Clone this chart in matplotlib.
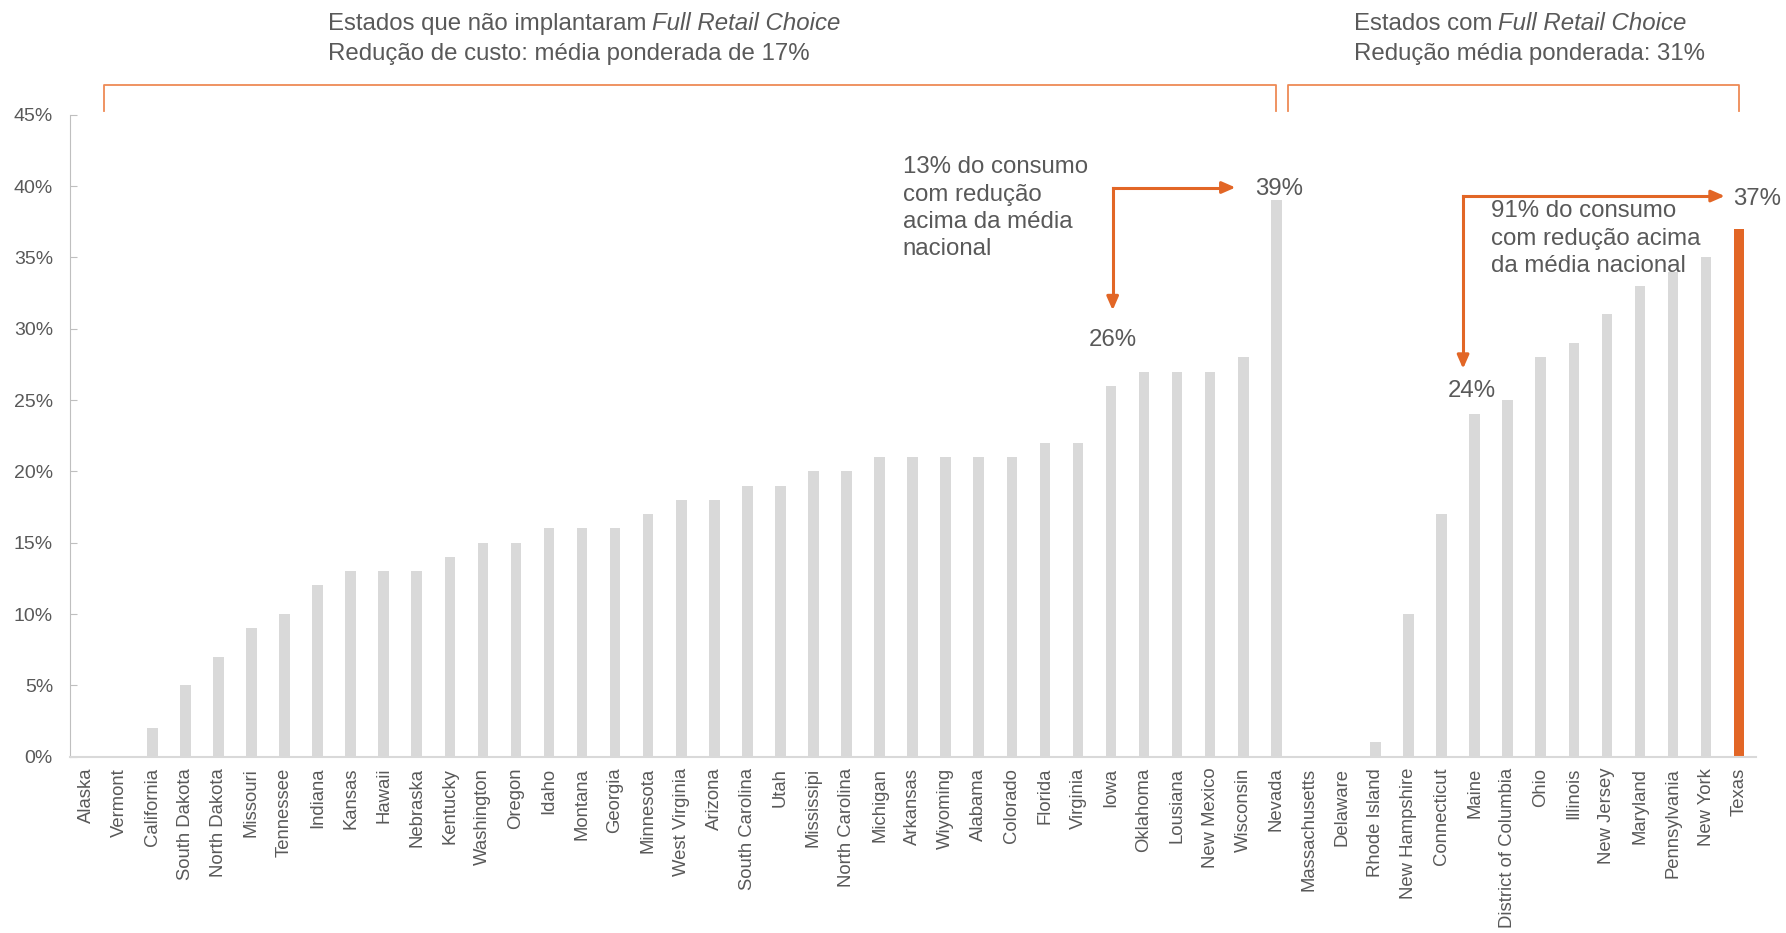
import matplotlib
matplotlib.use("Agg")
import matplotlib.pyplot as plt
from matplotlib import font_manager
import numpy as np

# fonts: narrow face for annotations if we have it
names = {f.name for f in font_manager.fontManager.ttflist}
narrow = "Liberation Sans Narrow" if "Liberation Sans Narrow" in names else "Liberation Sans"
plt.rcParams["font.family"] = ["Liberation Sans", "DejaVu Sans"]

states_no_frc = ["Alaska", "Vermont", "California", "South Dakota", "North Dakota", "Missouri",
                 "Tennessee", "Indiana", "Kansas", "Hawaii", "Nebraska", "Kentucky", "Washington",
                 "Oregon", "Idaho", "Montana", "Georgia", "Minnesota", "West Virginia", "Arizona",
                 "South Carolina", "Utah", "Mississipi", "North Carolina", "Michigan", "Arkansas",
                 "Wiyoming", "Alabama", "Colorado", "Florida", "Virginia", "Iowa", "Oklahoma",
                 "Lousiana", "New Mexico", "Wisconsin", "Nevada"]
red_no_frc = [0, 0, 2, 5, 7, 9, 10, 12, 13, 13, 13, 14, 15, 15, 16, 16, 16, 17, 18, 18, 19, 19,
              20, 20, 21, 21, 21, 21, 21, 22, 22, 26, 27, 27, 27, 28, 39]

states_frc = ["Massachusetts", "Delaware", "Rhode Island", "New Hampshire", "Connecticut", "Maine",
              "District of Columbia", "Ohio", "Illinois", "New Jersey", "Maryland", "Pennsylvania",
              "New York", "Texas"]
red_frc = [0, 0, 1, 10, 17, 24, 25, 28, 29, 31, 33, 34, 35, 37]

states = states_no_frc + states_frc
values = np.array(red_no_frc + red_frc) / 100
highlight = "Texas"

grey_bar = "#D9D9D9"
orange = "#E26626"
txt = "#595959"

fig = plt.figure(figsize=(17.86, 9.33), dpi=100)
ax = fig.add_axes([0.039, 0.189, 0.944, 0.688])

x = np.arange(len(states))
colors = [orange if s == highlight else grey_bar for s in states]
ax.bar(x, values, width=0.32, color=colors, zorder=2)

ax.set_xlim(-0.5, len(states) - 0.5)
ax.set_ylim(0, 0.45)
ax.set_yticks(np.arange(0, 0.451, 0.05))
ax.set_yticklabels([f"{int(round(v * 100))}%" for v in np.arange(0, 0.451, 0.05)])
ax.set_xticks(x)
ax.set_xticklabels(states, rotation=90)
ax.tick_params(axis="y", direction="in", length=5, color="#BFBFBF", labelsize=14, labelcolor=txt, pad=12)
ax.tick_params(axis="x", length=0, labelsize=13.3, labelcolor=txt, pad=8)
for side in ["top", "right"]:
    ax.spines[side].set_visible(False)
ax.spines["left"].set_color("#BFBFBF")
ax.spines["bottom"].set_color("#D9D9D9")
ax.spines["bottom"].set_linewidth(1.5)

# group brackets above the chart
def bracket(x0, x1, ytop, ybot):
    ax.plot([x0, x0, x1, x1], [ybot, ytop, ytop, ybot], color="#EE8A55", lw=1.3, clip_on=False)

bracket(0.55, 36.0, 0.471, 0.4525)
bracket(36.35, 50.0, 0.471, 0.4525)

def heading(xpos, first, italic, second):
    t1 = ax.text(xpos, 0.5135, first, fontsize=17.3, color=txt, family=narrow, va="center", clip_on=False)
    ax.annotate(italic, xy=(1, 0), xycoords=t1, xytext=(4, 0), textcoords="offset points",
                fontsize=17.3, color=txt, family=narrow, style="italic", va="bottom")
    ax.text(xpos, 0.4925, second, fontsize=17.3, color=txt, family=narrow, va="center", clip_on=False)

heading(7.3, "Estados que não implantaram", "Full Retail Choice",
        "Redução de custo: média ponderada de 17%")
heading(38.35, "Estados com", "Full Retail Choice", "Redução média ponderada: 31%")

# arrows
def elbow(xv, yh, ydown, xright):
    ax.plot([xv, xv], [ydown + 0.008, yh], color=orange, lw=2.2, clip_on=False)
    ax.plot([xv, xright - 0.4], [yh, yh], color=orange, lw=2.2, clip_on=False)
    ax.annotate("", xy=(xv, ydown), xytext=(xv, ydown + 0.012),
                arrowprops=dict(arrowstyle="-|>,head_length=0.8,head_width=0.35", color=orange, lw=2.2))
    ax.annotate("", xy=(xright, yh), xytext=(xright - 0.6, yh),
                arrowprops=dict(arrowstyle="-|>,head_length=0.8,head_width=0.35", color=orange, lw=2.2))

elbow(31.05, 0.399, 0.311, 34.85)
elbow(41.65, 0.393, 0.270, 49.65)

lab = dict(fontsize=17.3, color=txt, family=narrow, ha="center", va="center", clip_on=False)
ax.text(31.05, 0.292, "26%", **lab)
ax.text(36.1, 0.398, "39%", **lab)
ax.text(41.9, 0.256, "24%", **lab)
ax.text(50.55, 0.391, "37%", **lab)

note = dict(fontsize=17.3, color=txt, family=narrow, ha="left", va="top", linespacing=1.32)
ax.text(24.7, 0.421, "13% do consumo\ncom redução\nacima da média\nnacional", **note)
ax.text(42.5, 0.390, "91% do consumo\ncom redução acima\nda média nacional", **note)

fig.savefig("out.png", dpi=100)
